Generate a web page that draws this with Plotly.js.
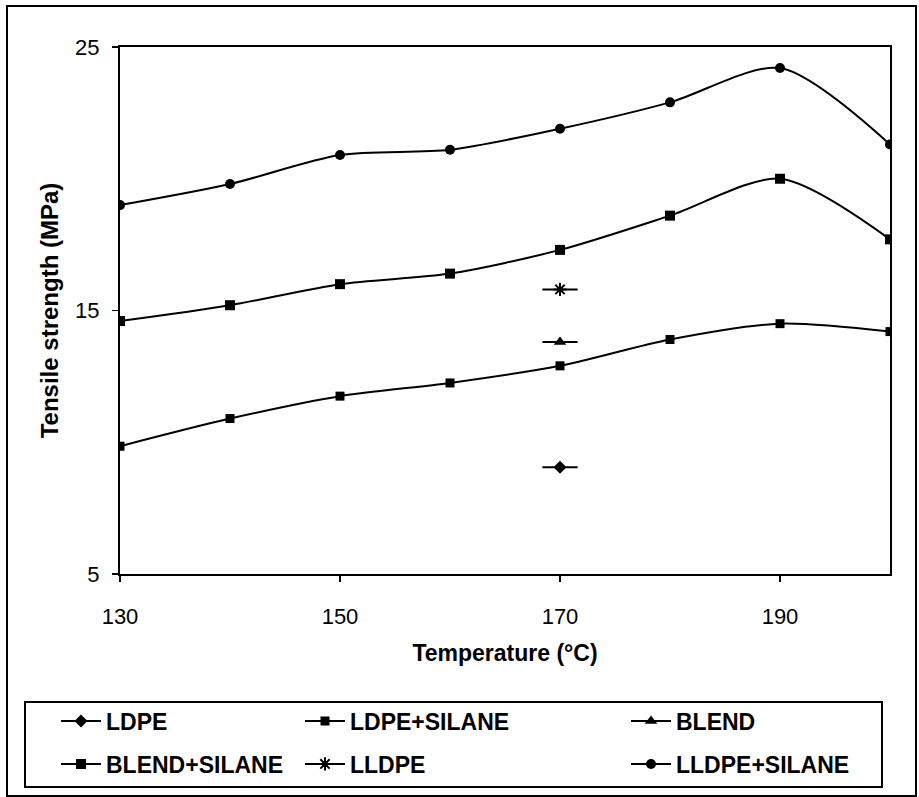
<!DOCTYPE html>
<html><head><meta charset="utf-8">
<script src="https://cdn.plot.ly/plotly-3.0.1.min.js"></script>
<style>html,body{margin:0;padding:0;background:#fff}#c{width:919px;height:797px}</style>
</head><body><div id="c"></div>
<script>
const temps = [130, 140, 150, 160, 170, 180, 190, 200];
const ldpeSilane = [9.85, 10.9, 11.75, 12.25, 12.9, 13.9, 14.5, 14.2];
const blendSilane = [14.6, 15.2, 16.0, 16.4, 17.3, 18.6, 20.0, 17.7];
const lldpeSilane = [19.0, 19.8, 20.9, 21.1, 21.9, 22.9, 24.2, 21.3];
const singleTemp = [170];
const ldpe = [9.05];
const blend = [13.8];
const lldpe = [15.8];

const W = 919, H = 797, mL = 120, mR = 29, mT = 47, mB = 223;
const pw = W - mL - mR, ph = H - mT - mB;
const px = v => (v - mL) / pw;
const py = v => (H - mB - v) / ph;

const FONT = 'Liberation Sans, Arial, sans-serif';
const lf = {family: FONT, size: 23, color: '#000'};
const line = {color: '#000', width: 2, shape: 'spline', smoothing: 0.8};
const err = {type: 'constant', value: 1.6, width: 0, thickness: 2, color: '#000'};

const traces = [
  {name: '<b>LDPE</b>', x: singleTemp, y: ldpe, mode: 'lines+markers', line: {color: '#000', width: 2},
   marker: {symbol: 'diamond', size: 10, color: '#000'}, error_x: err, legend: 'legend'},
  {name: '<b>LDPE+SILANE</b>', x: temps, y: ldpeSilane, mode: 'lines+markers', line: line,
   marker: {symbol: 'square', size: 9, color: '#000'}, legend: 'legend2'},
  {name: '<b>BLEND</b>', x: singleTemp, y: blend, mode: 'lines+markers', line: {color: '#000', width: 2},
   marker: {symbol: 'triangle-up', size: 11, color: '#000'}, error_x: err, legend: 'legend3'},
  {name: '<b>BLEND+SILANE</b>', x: temps, y: blendSilane, mode: 'lines+markers', line: line,
   marker: {symbol: 'square', size: 10, color: '#000'}, legend: 'legend4'},
  {name: '<b>LLDPE</b>', x: singleTemp, y: lldpe, mode: 'lines+markers', line: {color: '#000', width: 2},
   marker: {symbol: 'asterisk-open', size: 11, color: '#000', line: {width: 2, color: '#000'}}, error_x: err, legend: 'legend5'},
  {name: '<b>LLDPE+SILANE</b>', x: temps, y: lldpeSilane, mode: 'lines+markers', line: line,
   marker: {symbol: 'circle', size: 10, color: '#000'}, legend: 'legend6'}
];

function lg(xp, yp) {
  return {x: px(xp), y: py(yp), xanchor: 'left', yanchor: 'middle', font: lf,
          bgcolor: 'rgba(0,0,0,0)', borderwidth: 0, itemwidth: 40};
}

const layout = {
  width: W, height: H,
  margin: {l: mL, r: mR, t: mT, b: mB},
  paper_bgcolor: '#fff', plot_bgcolor: '#fff',
  font: {family: FONT, color: '#000'},
  showlegend: true,
  xaxis: {
    range: [130, 200], tickvals: [130, 150, 170, 190], showgrid: false, zeroline: false,
    showline: true, linecolor: '#000', linewidth: 2, mirror: true,
    ticks: 'outside', ticklen: 6, tickwidth: 1.5, tickcolor: '#000', ticklabelstandoff: 16,
    tickfont: {size: 22, color: '#000'},
    title: {text: '<b>Temperature (°C)</b>', font: {size: 23, color: '#000'}, standoff: 16}
  },
  yaxis: {
    range: [5, 25], tickvals: [5, 15, 25], showgrid: false, zeroline: false,
    showline: true, linecolor: '#000', linewidth: 2, mirror: true,
    ticks: 'outside', ticklen: 6, tickwidth: 1.5, tickcolor: '#000', ticklabelstandoff: 8,
    tickfont: {size: 22, color: '#000'},
    title: {text: '<b>Tensile strength (MPa)</b>', font: {size: 24, color: '#000'}, standoff: 10}
  },
  legend: lg(56, 721), legend2: lg(300, 721), legend3: lg(626, 721),
  legend4: lg(56, 764), legend5: lg(300, 764), legend6: lg(626, 764),
  shapes: [
    {type: 'rect', xref: 'paper', yref: 'paper', x0: px(7), x1: px(916), y0: py(6), y1: py(796),
     line: {color: '#000', width: 2}},
    {type: 'rect', xref: 'paper', yref: 'paper', x0: px(25), x1: px(882), y0: py(702), y1: py(787),
     line: {color: '#000', width: 2}}
  ]
};

Plotly.newPlot('c', traces, layout, {displayModeBar: false, staticPlot: true});
</script></body></html>
